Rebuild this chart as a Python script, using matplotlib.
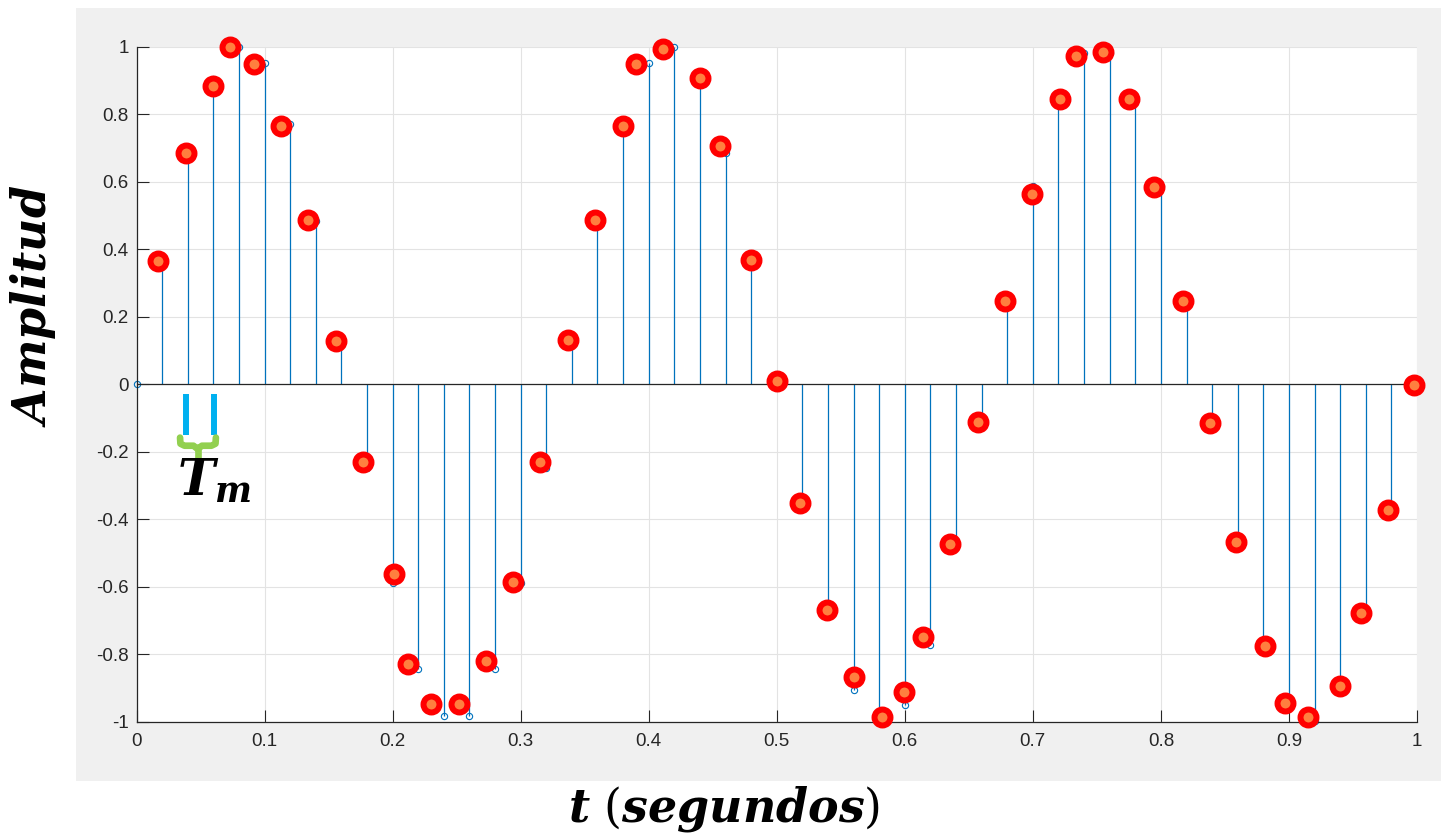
import matplotlib
matplotlib.use("Agg")
import matplotlib.pyplot as plt
from matplotlib.patches import Rectangle

# blue stems, one sample every 0.02 s
t_values = [0.00, 0.02, 0.04, 0.06, 0.08, 0.10, 0.12, 0.14, 0.16, 0.18,
            0.20, 0.22, 0.24, 0.26, 0.28, 0.30, 0.32, 0.34, 0.36, 0.38,
            0.40, 0.42, 0.44, 0.46, 0.48, 0.50, 0.52, 0.54, 0.56, 0.58,
            0.60, 0.62, 0.64, 0.66, 0.68, 0.70, 0.72, 0.74, 0.76, 0.78,
            0.80, 0.82, 0.84, 0.86, 0.88, 0.90, 0.92, 0.94, 0.96, 0.98, 1.00]
amp_values = [0.000, 0.368, 0.685, 0.905, 0.998, 0.951, 0.771, 0.482, 0.125, -0.249,
              -0.588, -0.844, -0.982, -0.982, -0.844, -0.588, -0.249, 0.125, 0.482, 0.771,
              0.951, 0.998, 0.905, 0.685, 0.368, 0.000, -0.368, -0.685, -0.905, -0.998,
              -0.951, -0.771, -0.482, -0.125, 0.249, 0.588, 0.844, 0.982, 0.982, 0.844,
              0.588, 0.249, -0.125, -0.482, -0.771, -0.951, -0.998, -0.905, -0.685, -0.368, 0.000]

# red points laid over the stems
red_t = [0.017, 0.039, 0.060, 0.073, 0.092, 0.113, 0.134, 0.156, 0.177, 0.201,
         0.212, 0.230, 0.252, 0.273, 0.294, 0.315, 0.337, 0.358, 0.380, 0.390,
         0.411, 0.440, 0.456, 0.480, 0.500, 0.518, 0.539, 0.560, 0.582, 0.599,
         0.614, 0.635, 0.657, 0.678, 0.699, 0.721, 0.734, 0.755, 0.775, 0.795,
         0.817, 0.838, 0.859, 0.881, 0.897, 0.915, 0.940, 0.956, 0.977, 0.998]
red_amp = [0.364, 0.684, 0.882, 1.000, 0.947, 0.764, 0.486, 0.127, -0.231, -0.563,
           -0.829, -0.947, -0.947, -0.820, -0.586, -0.231, 0.130, 0.486, 0.764, 0.947,
           0.992, 0.906, 0.705, 0.367, 0.009, -0.352, -0.669, -0.867, -0.986, -0.912,
           -0.749, -0.474, -0.113, 0.246, 0.563, 0.844, 0.971, 0.983, 0.844, 0.583,
           0.246, -0.115, -0.468, -0.776, -0.944, -0.986, -0.894, -0.678, -0.373, -0.003]

x_ticks = [0, 0.1, 0.2, 0.3, 0.4, 0.5, 0.6, 0.7, 0.8, 0.9, 1]
x_tick_labels = ["0", "0.1", "0.2", "0.3", "0.4", "0.5", "0.6", "0.7", "0.8", "0.9", "1"]
y_ticks = [-1, -0.8, -0.6, -0.4, -0.2, 0, 0.2, 0.4, 0.6, 0.8, 1]
y_tick_labels = ["-1", "-0.8", "-0.6", "-0.4", "-0.2", "0", "0.2", "0.4", "0.6", "0.8", "1"]

# T_m annotation (bars + brace), in data units
tm_bars_t = [0.0387, 0.0602]
tm_bar_top = -0.030
tm_bar_bottom = -0.151
brace_t = [0.0340, 0.0343, 0.0375, 0.0445, 0.0478, 0.0511, 0.0585, 0.0617, 0.0620]
brace_y = [-0.158, -0.176, -0.182, -0.182, -0.192, -0.182, -0.182, -0.176, -0.158]
brace_tip_t = [0.0478, 0.0478]
brace_tip_y = [-0.186, -0.218]

BLUE = "#0072BD"
DARK = "#262626"


def setup():
  fig = plt.figure(figsize=(14.41, 8.35), dpi=100)
  fig.patch.set_facecolor("white")
  fig.patches.append(Rectangle((76 / 1441, 1 - 781 / 835), 1 - 76 / 1441, (781 - 8) / 835,
                               transform=fig.transFigure, facecolor="#f0f0f0",
                               edgecolor="none", zorder=-1))
  ax = fig.add_axes([136.5 / 1441, 1 - 722 / 835, (1417 - 136.5) / 1441, (722 - 46.5) / 835])
  ax.set_facecolor("white")
  return fig, ax


def draw_stems(ax):
  markerline, stemlines, baseline = ax.stem(t_values, amp_values)
  markerline.set_marker("o")
  markerline.set_markerfacecolor("none")
  markerline.set_markeredgecolor(BLUE)
  markerline.set_markersize(4.5)
  markerline.set_markeredgewidth(0.8)
  markerline.set_clip_on(False)
  stemlines.set_color(BLUE)
  stemlines.set_linewidth(0.9)
  baseline.set_color(DARK)
  baseline.set_linewidth(0.9)

  ax.plot(red_t, red_amp, linestyle="none", marker="o", markersize=11.5,
          markerfacecolor="#ff7f3f", markeredgecolor="#ff0000",
          markeredgewidth=4.3, clip_on=False, zorder=5)


def draw_tm(ax):
  for tb in tm_bars_t:
    ax.plot([tb, tb], [tm_bar_top, tm_bar_bottom], color="#00b0f0",
            linewidth=4.3, solid_capstyle="butt", zorder=4)
  ax.plot(brace_t, brace_y, color="#92d050", linewidth=4.8,
          solid_capstyle="round", solid_joinstyle="round", zorder=4)
  ax.plot(brace_tip_t, brace_tip_y, color="#92d050", linewidth=4.8,
          solid_capstyle="round", zorder=4)
  ax.text(0.0316, -0.329, r"$\mathbfit{T_m}$", fontsize=36,
          math_fontfamily="dejavuserif", ha="left", va="baseline", zorder=6)


def style(fig, ax):
  ax.set_xlim(0, 1)
  ax.set_ylim(-1, 1)
  ax.set_xticks(x_ticks)
  ax.set_xticklabels(x_tick_labels)
  ax.set_yticks(y_ticks)
  ax.set_yticklabels(y_tick_labels)
  for lab in ax.get_xticklabels() + ax.get_yticklabels():
    lab.set_fontfamily("Liberation Sans")
    lab.set_fontsize(13.5)
    lab.set_color(DARK)
  ax.tick_params(axis="both", direction="in", length=8.6, width=0.8, color=DARK)
  ax.tick_params(axis="x", pad=8)
  ax.tick_params(axis="y", pad=5.5)
  ax.spines["top"].set_visible(False)
  ax.spines["right"].set_visible(False)
  ax.spines["left"].set_color(DARK)
  ax.spines["bottom"].set_color(DARK)
  ax.spines["left"].set_linewidth(0.9)
  ax.spines["bottom"].set_linewidth(0.9)
  ax.grid(True, color="#e3e3e3", linewidth=0.8)
  ax.set_axisbelow(True)

  fig.text(33 / 1441, 1 - 306 / 835, r"$\mathbfit{Amplitud}$", rotation=90, fontsize=33,
           math_fontfamily="dejavuserif", ha="center", va="center")
  fig.text(724 / 1441, 1 - 822 / 835, r"$\mathbfit{t}\ (\mathbfit{segundos})$", fontsize=33,
           math_fontfamily="dejavuserif", ha="center", va="baseline")


def run():
  fig, ax = setup()
  draw_stems(ax)
  draw_tm(ax)
  style(fig, ax)
  fig.savefig("out.png", dpi=100, facecolor="white")


run()
